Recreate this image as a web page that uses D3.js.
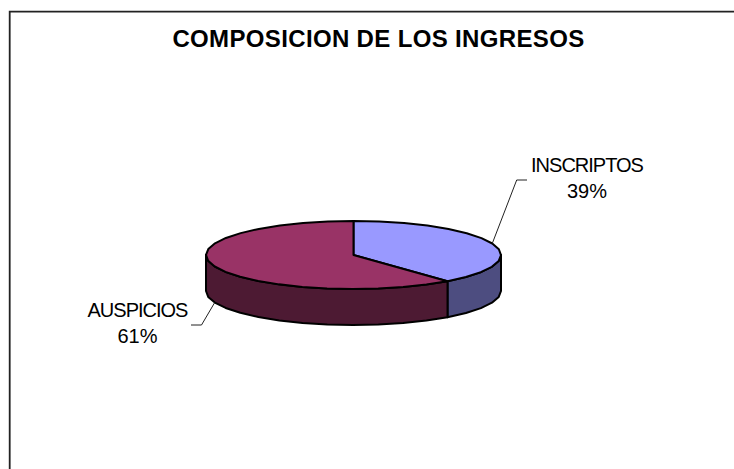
<!DOCTYPE html>
<html>
<head>
<meta charset="utf-8">
<script src="https://cdn.jsdelivr.net/npm/d3@7"></script>
<style>
body { margin: 0; background: #fff; }
svg { display: block; }
text { font-family: "Liberation Sans", Arial, sans-serif; fill: #000; }
</style>
</head>
<body>
<script>
let categories = ["INSCRIPTOS", "AUSPICIOS"];
let values = [39, 61];
let topColors = ["#9999ff", "#993366"];
let wallColors = ["#4d4d80", "#4d1a33"];
let titleText = "COMPOSICION DE LOS INGRESOS";

let width = 734, height = 469;
let cx = 353.5, cy = 255, rx = 147.5, ry = 34, depth = 36;

let svg = d3.select("body").append("svg")
    .attr("width", width)
    .attr("height", height);

// frame only has left and top sides
svg.append("path")
    .attr("d", d3.line()([[9.7, height], [9.7, 11.7], [width, 11.7]]))
    .attr("fill", "none")
    .attr("stroke", "#222")
    .attr("stroke-width", 1.8);

svg.append("text")
    .attr("x", 378.5)
    .attr("y", 47)
    .attr("text-anchor", "middle")
    .style("font-size", "24px")
    .style("font-weight", "bold")
    .style("letter-spacing", "0.35px")
    .text(titleText);

let slices = d3.pie().sort(null)(values);

// angle is clockwise from 12 o'clock, flattened to an ellipse
let px = a => cx + rx * Math.sin(a);
let py = (a, dz = 0) => cy - ry * Math.cos(a) + dz;
let sample = (a0, a1) => {
    let n = Math.max(2, Math.round((a1 - a0) / (Math.PI / 18)));
    return d3.range(n + 1).map(i => a0 + (a1 - a0) * i / n);
};
let line = d3.line();

// walls first, only the front half of the rim can be seen
slices.forEach((s, i) => {
    let a0 = Math.max(s.startAngle, Math.PI / 2);
    let a1 = Math.min(s.endAngle, Math.PI * 1.5);
    if (a1 <= a0) return;
    let rim = sample(a0, a1);
    let pts = rim.map(a => [px(a), py(a)])
        .concat(rim.slice().reverse().map(a => [px(a), py(a, depth)]));
    svg.append("path")
        .attr("d", line(pts) + "Z")
        .attr("fill", wallColors[i])
        .attr("stroke", "#000")
        .attr("stroke-width", 2)
        .attr("stroke-linejoin", "round");
});

slices.forEach((s, i) => {
    let pts = [[cx, cy]].concat(sample(s.startAngle, s.endAngle).map(a => [px(a), py(a)]));
    svg.append("path")
        .attr("d", line(pts) + "Z")
        .attr("fill", topColors[i])
        .attr("stroke", "#000")
        .attr("stroke-width", 2)
        .attr("stroke-linejoin", "round");
});

// labels with leader lines, starting from each slice mid angle
let labelX = [587, 137.5], labelY = [172, 317];
let elbow = [[516.7, 180], [201.5, 325]], tail = [527, 191];

slices.forEach((s, i) => {
    let mid = (s.startAngle + s.endAngle) / 2;
    let dz = mid > Math.PI / 2 && mid < Math.PI * 1.5 ? depth : 0;
    svg.append("path")
        .attr("d", line([[px(mid), py(mid, dz)], elbow[i], [tail[i], elbow[i][1]]]))
        .attr("fill", "none")
        .attr("stroke", "#222")
        .attr("stroke-width", 1);

    let label = svg.append("text")
        .attr("text-anchor", "middle")
        .style("font-size", "20px")
        .style("letter-spacing", "-1px");
    label.append("tspan").attr("x", labelX[i]).attr("y", labelY[i]).text(categories[i]);
    label.append("tspan").attr("x", labelX[i]).attr("y", labelY[i] + 26)
        .style("letter-spacing", "0")
        .text(values[i] + "%");
});
</script>
</body>
</html>
